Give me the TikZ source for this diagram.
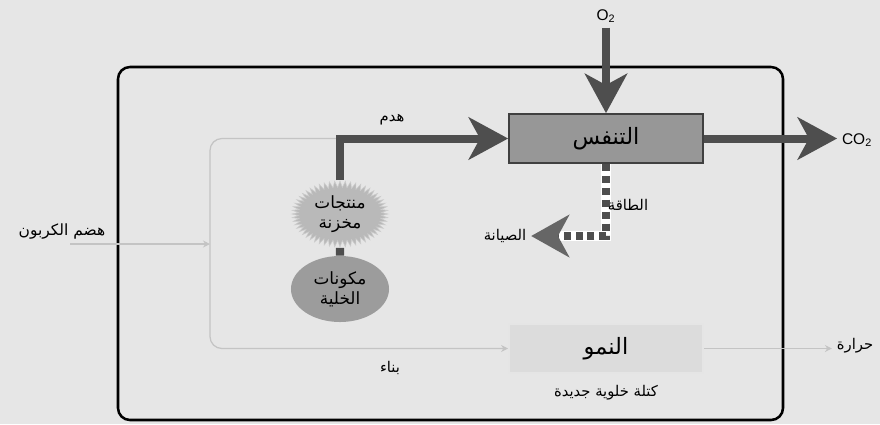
\documentclass[tikz,border=0pt]{standalone}
\usepackage{fontspec}
\setmainfont{Liberation Sans}
\newfontfamily\arabicfont[Script=Arabic]{DejaVu Sans}
\TeXXeTstate=1
\newcommand{\artext}[1]{{\arabicfont\beginR #1\endR}}
\usetikzlibrary{backgrounds,arrows.meta,positioning,shapes.geometric,shapes.symbols}

\definecolor{bggray}{HTML}{E6E6E6}
\definecolor{flowgray}{HTML}{4E4E4E}
\definecolor{thingray}{HTML}{C4C4C4}
\definecolor{respgray}{HTML}{979797}
\definecolor{growgray}{HTML}{DCDCDC}

\tikzset{
  process/.style={draw=black!75, line width=1.2pt, minimum width=4.85cm, minimum height=1.225cm, font=\fontsize{16}{18}\selectfont},
  tag/.style={font=\fontsize{10.5}{12}\selectfont},
  bigflow/.style={draw=flowgray, line width=5.7pt, -{Stealth[length=28pt, width=30pt, inset=8pt]}},
  dotflow/.style={draw=flowgray, line width=5pt, dash pattern=on 5pt off 3.5pt, -{Stealth[length=27pt, width=30pt, inset=8pt, color=gray!80!black]},
    preaction={draw=white, line width=7.5pt, solid, -, shorten >=20pt}},
  thinflow/.style={draw=thingray, line width=0.9pt, -{Stealth[length=5pt, width=5pt]}},
}

\begin{document}
\begin{tikzpicture}[x=0.025cm, y=-0.025cm]
		\useasboundingbox (0,0) rectangle (880,424);
		\node[process, fill=respgray] (resp) at (606,138.5) {\artext{التنفس}};
		\node[process, fill=growgray, draw=gray!20] (growth) at (606,348.5) {\artext{النمو}};
		\node[starburst, fill=gray!55, draw=gray!40, starburst points=56, starburst point height=0.16cm, random starburst=0, minimum width=2.4cm, minimum height=1.65cm, align=center, inner sep=0pt, font=\fontsize{12}{14}\selectfont] (stored) at (340,214) {\artext{منتجات}\\\artext{مخزنة}};
		\node[ellipse, fill=gray!78, minimum width=2.45cm, minimum height=1.65cm, align=center, inner sep=0pt, font=\fontsize{12}{14}\selectfont] (cell) at (340,289) {\artext{مكونات}\\\artext{الخلية}};
		\node[font=\fontsize{11}{13}\selectfont] (o2) at (606,16) {O\textsubscript{2}};
		\node[font=\fontsize{11}{13}\selectfont] (co2) at (857,140) {CO\textsubscript{2}};
		\node[tag] (heat) at (855,346) {\artext{حرارة}};
		\node[font=\fontsize{11}{13}\selectfont] (carbon) at (62,232) {\artext{هضم الكربون}};
		\node[tag] (maint) at (505,236) {\artext{الصيانة}};
		\node[tag] (energy) at (628,205) {\artext{الطاقة}};
		\node[tag] (catab) at (392,120) {\artext{هدم}};
		\node[tag] (anab) at (390,368) {\artext{بناء}};
		\node[tag] (newmass) at (606,393) {\artext{كتلة خلوية جديدة}};
		\coordinate (uptake) at (70,244);
		\coordinate (junction) at (210,244);
		
		\begin{scope}[on background layer]
		\fill[bggray] (0,0) rectangle (880,424);
		\draw[line width=1.8pt, rounded corners=8.5pt] (118,67) rectangle (783,420);
		
		\draw[thinflow, rounded corners=8.5pt] (stored |- resp.west) -| (junction) |- (growth.west);
		\draw[thinflow] (uptake) -- (junction);
		\draw[thinflow] (growth.east) -- (growth.east -| heat.west);
		\draw[draw=flowgray, line width=5.7pt] (stored) -- (cell);
		\draw[bigflow] (stored) |- (resp.west);
		\draw[bigflow] (o2) -- (resp.north);
		\draw[bigflow] (resp.east) -- (resp.east -| co2.west);
		\draw[dotflow] (resp.south) |- (maint.east);
		\end{scope}
		\end{tikzpicture}
\end{document}
